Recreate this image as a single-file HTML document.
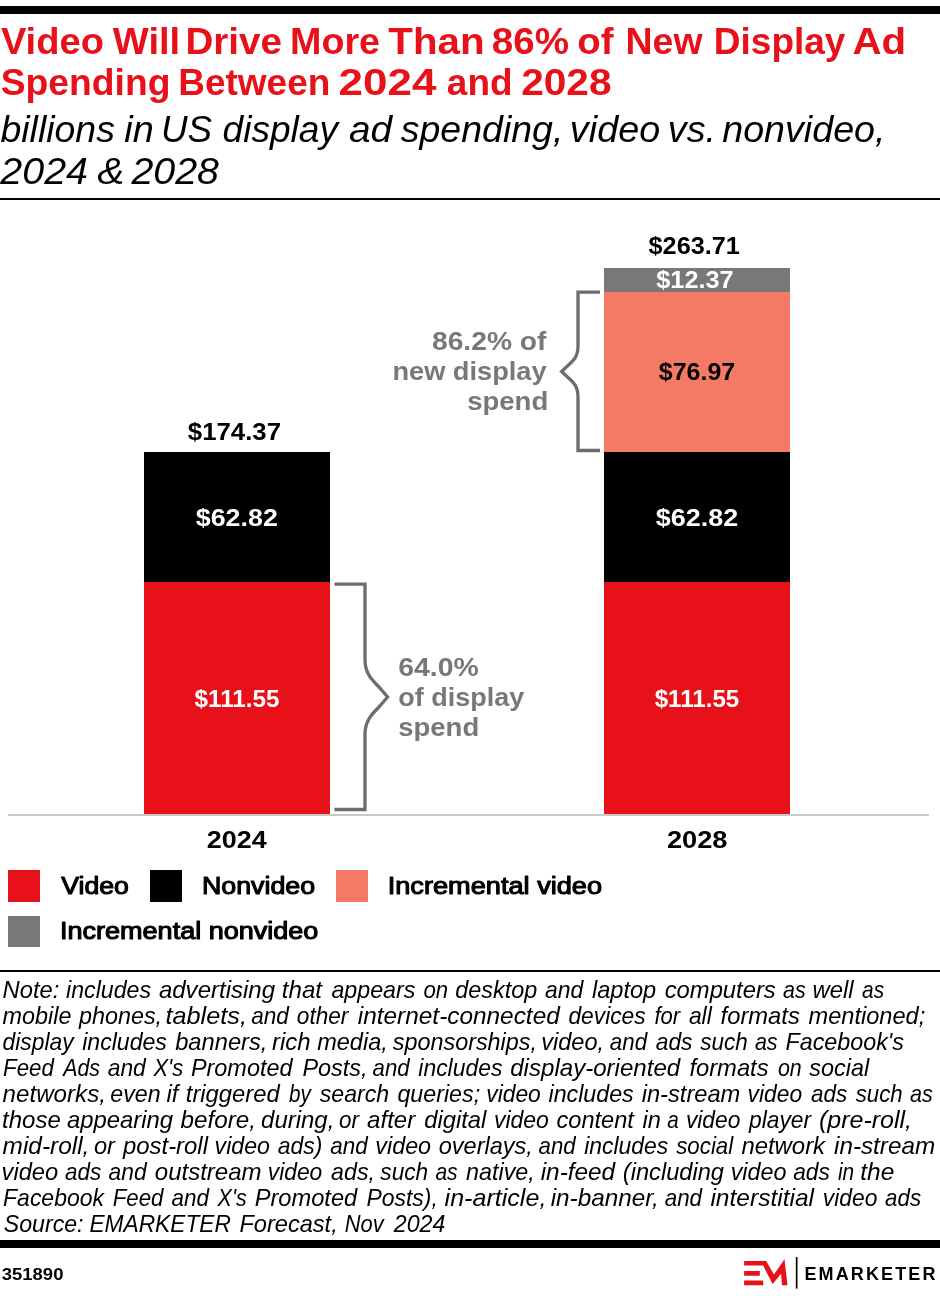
<!DOCTYPE html>
<html lang="en"><head><meta charset="utf-8"><title>Video Will Drive More Than 86% of New Display Ad Spending</title>
<style>
html,body{margin:0;padding:0;background:#fff}
svg{display:block;will-change:transform;font-family:"Liberation Sans",Arial,Helvetica,sans-serif}
</style></head><body>
<svg width="940" height="1296" viewBox="0 0 940 1296">
<rect width="940" height="1296" fill="#fff"/>
<rect x="0" y="6" width="940" height="8" fill="#000"/>
<rect x="0" y="198" width="940" height="2" fill="#000"/>
<rect x="0" y="970" width="940" height="2" fill="#000"/>
<rect x="0" y="1240" width="940" height="8" fill="#000"/>
<text y="53.5" font-size="36.6" font-weight="bold" font-style="normal" fill="#E8111A"><tspan x="0.91" textLength="103.0" lengthAdjust="spacingAndGlyphs">Video</tspan> <tspan x="112.8" textLength="67.35" lengthAdjust="spacingAndGlyphs">Will</tspan> <tspan x="185.47" textLength="96.47" lengthAdjust="spacingAndGlyphs">Drive</tspan> <tspan x="290.05" textLength="90.05" lengthAdjust="spacingAndGlyphs">More</tspan> <tspan x="388.29" textLength="96.26" lengthAdjust="spacingAndGlyphs">Than</tspan> <tspan x="491.79" textLength="77.24" lengthAdjust="spacingAndGlyphs">86%</tspan> <tspan x="577.35" textLength="36.3" lengthAdjust="spacingAndGlyphs">of</tspan> <tspan x="625.55" textLength="76.98" lengthAdjust="spacingAndGlyphs">New</tspan> <tspan x="713.79" textLength="131.67" lengthAdjust="spacingAndGlyphs">Display</tspan> <tspan x="852.44" textLength="53.65" lengthAdjust="spacingAndGlyphs">Ad</tspan></text>
<text y="95" font-size="36.6" font-weight="bold" font-style="normal" fill="#E8111A"><tspan x="0.79" textLength="169.65" lengthAdjust="spacingAndGlyphs">Spending</tspan> <tspan x="178.19" textLength="152.18" lengthAdjust="spacingAndGlyphs">Between</tspan> <tspan x="338.51" textLength="97.94" lengthAdjust="spacingAndGlyphs">2024</tspan> <tspan x="446.88" textLength="65.66" lengthAdjust="spacingAndGlyphs">and</tspan> <tspan x="521.16" textLength="90.38" lengthAdjust="spacingAndGlyphs">2028</tspan></text>
<text y="141.5" font-size="36.5" font-weight="normal" font-style="italic" fill="#000"><tspan x="0.48" textLength="114.43" lengthAdjust="spacingAndGlyphs">billions</tspan> <tspan x="124.3" textLength="29.47" lengthAdjust="spacingAndGlyphs">in</tspan> <tspan x="160.99" textLength="51.18" lengthAdjust="spacingAndGlyphs">US</tspan> <tspan x="222.58" textLength="115.34" lengthAdjust="spacingAndGlyphs">display</tspan> <tspan x="349.0" textLength="43.18" lengthAdjust="spacingAndGlyphs">ad</tspan> <tspan x="400.79" textLength="162.55" lengthAdjust="spacingAndGlyphs">spending,</tspan> <tspan x="569.87" textLength="90.29" lengthAdjust="spacingAndGlyphs">video</tspan> <tspan x="667.85" textLength="48.11" lengthAdjust="spacingAndGlyphs">vs.</tspan> <tspan x="722.24" textLength="163.25" lengthAdjust="spacingAndGlyphs">nonvideo,</tspan></text>
<text y="183.8" font-size="36.5" font-weight="normal" font-style="italic" fill="#000"><tspan x="0.37" textLength="87.55" lengthAdjust="spacingAndGlyphs">2024</tspan> <tspan x="97.31" textLength="27.11" lengthAdjust="spacingAndGlyphs">&amp;</tspan> <tspan x="131.48" textLength="87.52" lengthAdjust="spacingAndGlyphs">2028</tspan></text>
<rect x="8" y="814" width="921" height="2" fill="#c9c9c9"/>
<rect x="144" y="452" width="186" height="130" fill="#000"/>
<rect x="144" y="582" width="186" height="232" fill="#E8111A"/>
<rect x="604" y="268" width="186" height="24" fill="#787878"/>
<rect x="604" y="292" width="186" height="160" fill="#F47A65"/>
<rect x="604" y="452" width="186" height="130" fill="#000"/>
<rect x="604" y="582" width="186" height="232" fill="#E8111A"/>
<text x="234.4" y="439.5" font-size="24.6" font-weight="bold" font-style="normal" fill="#000" text-anchor="middle" textLength="93.2" lengthAdjust="spacingAndGlyphs">$174.37</text>
<text x="236.8" y="525.5" font-size="24.6" font-weight="bold" font-style="normal" fill="#fff" text-anchor="middle" textLength="82" lengthAdjust="spacingAndGlyphs">$62.82</text>
<text x="237" y="706.5" font-size="24.6" font-weight="bold" font-style="normal" fill="#fff" text-anchor="middle" textLength="85" lengthAdjust="spacingAndGlyphs">$111.55</text>
<text x="236.8" y="847.8" font-size="24.6" font-weight="bold" font-style="normal" fill="#000" text-anchor="middle" textLength="60" lengthAdjust="spacingAndGlyphs">2024</text>
<text x="694.2" y="253.7" font-size="24.6" font-weight="bold" font-style="normal" fill="#000" text-anchor="middle" textLength="91.3" lengthAdjust="spacingAndGlyphs">$263.71</text>
<text x="695" y="287.8" font-size="24.6" font-weight="bold" font-style="normal" fill="#fff" text-anchor="middle" textLength="77.4" lengthAdjust="spacingAndGlyphs">$12.37</text>
<text x="697" y="380.4" font-size="24.6" font-weight="bold" font-style="normal" fill="#000" text-anchor="middle" textLength="76.3" lengthAdjust="spacingAndGlyphs">$76.97</text>
<text x="697" y="526" font-size="24.6" font-weight="bold" font-style="normal" fill="#fff" text-anchor="middle" textLength="82.4" lengthAdjust="spacingAndGlyphs">$62.82</text>
<text x="697" y="707" font-size="24.6" font-weight="bold" font-style="normal" fill="#fff" text-anchor="middle" textLength="84.6" lengthAdjust="spacingAndGlyphs">$111.55</text>
<text x="697.2" y="847.9" font-size="24.6" font-weight="bold" font-style="normal" fill="#000" text-anchor="middle" textLength="60.6" lengthAdjust="spacingAndGlyphs">2028</text>
<path d="M334.5,584.2 H365 V660 C365,673 372,680 378,686 L387.6,697 L378,708 C372,714 365,721 365,734 V809.5 H334.5" fill="none" stroke="#6c6c6c" stroke-width="3.3" stroke-linejoin="miter"/>
<path d="M600,292.1 H578 V346 C578,357 573,361 568,365.5 L561.6,371.5 L568,377.5 C573,382 578,386 578,397 V450.5 H600" fill="none" stroke="#6c6c6c" stroke-width="3.3" stroke-linejoin="miter"/>
<text x="398.2" y="675.8" font-size="25" font-weight="bold" font-style="normal" fill="#787878" text-anchor="start" textLength="80.6" lengthAdjust="spacingAndGlyphs">64.0%</text>
<text x="398.2" y="705.9" font-size="25" font-weight="bold" font-style="normal" fill="#787878" text-anchor="start" textLength="126" lengthAdjust="spacingAndGlyphs">of display</text>
<text x="398.2" y="735.8" font-size="25" font-weight="bold" font-style="normal" fill="#787878" text-anchor="start" textLength="81" lengthAdjust="spacingAndGlyphs">spend</text>
<text x="546.4" y="349.8" font-size="25" font-weight="bold" font-style="normal" fill="#787878" text-anchor="end" textLength="114.4" lengthAdjust="spacingAndGlyphs">86.2% of</text>
<text x="546.6" y="379.6" font-size="25" font-weight="bold" font-style="normal" fill="#787878" text-anchor="end" textLength="154.2" lengthAdjust="spacingAndGlyphs">new display</text>
<text x="548.2" y="409.8" font-size="25" font-weight="bold" font-style="normal" fill="#787878" text-anchor="end" textLength="81" lengthAdjust="spacingAndGlyphs">spend</text>
<rect x="8" y="870" width="32" height="32" fill="#E8111A"/>
<rect x="150" y="870" width="32" height="32" fill="#000"/>
<rect x="336" y="870" width="32" height="32" fill="#F47A65"/>
<rect x="8" y="916" width="32" height="31" fill="#787878"/>
<text x="61.3" y="893.5" font-size="24.2" font-weight="normal" font-style="normal" fill="#000" text-anchor="start" textLength="67.6" lengthAdjust="spacingAndGlyphs" stroke="#000" stroke-width="1.1" stroke-linejoin="round">Video</text>
<text x="201.9" y="893.5" font-size="24.2" font-weight="normal" font-style="normal" fill="#000" text-anchor="start" textLength="113.2" lengthAdjust="spacingAndGlyphs" stroke="#000" stroke-width="1.1" stroke-linejoin="round">Nonvideo</text>
<text x="387.7" y="893.5" font-size="24.2" font-weight="normal" font-style="normal" fill="#000" text-anchor="start" textLength="214.4" lengthAdjust="spacingAndGlyphs" stroke="#000" stroke-width="1.1" stroke-linejoin="round">Incremental video</text>
<text x="60" y="939.2" font-size="24.2" font-weight="normal" font-style="normal" fill="#000" text-anchor="start" textLength="258.4" lengthAdjust="spacingAndGlyphs" stroke="#000" stroke-width="1.1" stroke-linejoin="round">Incremental nonvideo</text>
<text y="998" font-size="23.4" font-weight="normal" font-style="italic" fill="#000"><tspan x="2.6" textLength="56.71" lengthAdjust="spacingAndGlyphs">Note:</tspan> <tspan x="66.1" textLength="84.9" lengthAdjust="spacingAndGlyphs">includes</tspan> <tspan x="158.9" textLength="116.21" lengthAdjust="spacingAndGlyphs">advertising</tspan> <tspan x="281.77" textLength="40.28" lengthAdjust="spacingAndGlyphs">that</tspan> <tspan x="331.4" textLength="84.0" lengthAdjust="spacingAndGlyphs">appears</tspan> <tspan x="423.4" textLength="24.66" lengthAdjust="spacingAndGlyphs">on</tspan> <tspan x="455.3" textLength="81.91" lengthAdjust="spacingAndGlyphs">desktop</tspan> <tspan x="545.0" textLength="38.23" lengthAdjust="spacingAndGlyphs">and</tspan> <tspan x="591.9" textLength="64.31" lengthAdjust="spacingAndGlyphs">laptop</tspan> <tspan x="664.7" textLength="111.09" lengthAdjust="spacingAndGlyphs">computers</tspan> <tspan x="783.0" textLength="22.72" lengthAdjust="spacingAndGlyphs">as</tspan> <tspan x="812.58" textLength="41.1" lengthAdjust="spacingAndGlyphs">well</tspan> <tspan x="862.1" textLength="22.03" lengthAdjust="spacingAndGlyphs">as</tspan></text>
<text y="1024" font-size="23.4" font-weight="normal" font-style="italic" fill="#000"><tspan x="2.6" textLength="68.91" lengthAdjust="spacingAndGlyphs">mobile</tspan> <tspan x="78.9" textLength="83.2" lengthAdjust="spacingAndGlyphs">phones,</tspan> <tspan x="165.52" textLength="81.38" lengthAdjust="spacingAndGlyphs">tablets,</tspan> <tspan x="251.2" textLength="37.74" lengthAdjust="spacingAndGlyphs">and</tspan> <tspan x="296.8" textLength="51.63" lengthAdjust="spacingAndGlyphs">other</tspan> <tspan x="357.8" textLength="201.97" lengthAdjust="spacingAndGlyphs">internet-connected</tspan> <tspan x="568.4" textLength="77.3" lengthAdjust="spacingAndGlyphs">devices</tspan> <tspan x="654.5" textLength="25.66" lengthAdjust="spacingAndGlyphs">for</tspan> <tspan x="688.9" textLength="22.91" lengthAdjust="spacingAndGlyphs">all</tspan> <tspan x="720.6" textLength="79.19" lengthAdjust="spacingAndGlyphs">formats</tspan> <tspan x="808.5" textLength="116.7" lengthAdjust="spacingAndGlyphs">mentioned;</tspan></text>
<text y="1050" font-size="23.4" font-weight="normal" font-style="italic" fill="#000"><tspan x="2.6" textLength="70.93" lengthAdjust="spacingAndGlyphs">display</tspan> <tspan x="82.2" textLength="84.7" lengthAdjust="spacingAndGlyphs">includes</tspan> <tspan x="175.2" textLength="92.23" lengthAdjust="spacingAndGlyphs">banners,</tspan> <tspan x="272.0" textLength="38.63" lengthAdjust="spacingAndGlyphs">rich</tspan> <tspan x="317.2" textLength="70.61" lengthAdjust="spacingAndGlyphs">media,</tspan> <tspan x="392.8" textLength="144.2" lengthAdjust="spacingAndGlyphs">sponsorships,</tspan> <tspan x="541.29" textLength="62.82" lengthAdjust="spacingAndGlyphs">video,</tspan> <tspan x="609.8" textLength="37.35" lengthAdjust="spacingAndGlyphs">and</tspan> <tspan x="655.7" textLength="36.8" lengthAdjust="spacingAndGlyphs">ads</tspan> <tspan x="700.2" textLength="47.47" lengthAdjust="spacingAndGlyphs">such</tspan> <tspan x="754.9" textLength="22.72" lengthAdjust="spacingAndGlyphs">as</tspan> <tspan x="785.5" textLength="118.4" lengthAdjust="spacingAndGlyphs">Facebook's</tspan></text>
<text y="1076" font-size="23.4" font-weight="normal" font-style="italic" fill="#000"><tspan x="3.1" textLength="50.85" lengthAdjust="spacingAndGlyphs">Feed</tspan> <tspan x="63.13" textLength="36.89" lengthAdjust="spacingAndGlyphs">Ads</tspan> <tspan x="107.7" textLength="38.13" lengthAdjust="spacingAndGlyphs">and</tspan> <tspan x="153.44" textLength="29.78" lengthAdjust="spacingAndGlyphs">X's</tspan> <tspan x="190.9" textLength="101.61" lengthAdjust="spacingAndGlyphs">Promoted</tspan> <tspan x="302.4" textLength="65.1" lengthAdjust="spacingAndGlyphs">Posts,</tspan> <tspan x="372.6" textLength="37.06" lengthAdjust="spacingAndGlyphs">and</tspan> <tspan x="418.3" textLength="84.1" lengthAdjust="spacingAndGlyphs">includes</tspan> <tspan x="510.2" textLength="170.08" lengthAdjust="spacingAndGlyphs">display-oriented</tspan> <tspan x="689.4" textLength="79.19" lengthAdjust="spacingAndGlyphs">formats</tspan> <tspan x="777.9" textLength="23.82" lengthAdjust="spacingAndGlyphs">on</tspan> <tspan x="809.3" textLength="59.9" lengthAdjust="spacingAndGlyphs">social</tspan></text>
<text y="1102" font-size="23.4" font-weight="normal" font-style="italic" fill="#000"><tspan x="2.6" textLength="103.38" lengthAdjust="spacingAndGlyphs">networks,</tspan> <tspan x="110.3" textLength="50.3" lengthAdjust="spacingAndGlyphs">even</tspan> <tspan x="166.6" textLength="11.86" lengthAdjust="spacingAndGlyphs">if</tspan> <tspan x="185.78" textLength="93.91" lengthAdjust="spacingAndGlyphs">triggered</tspan> <tspan x="289.1" textLength="21.85" lengthAdjust="spacingAndGlyphs">by</tspan> <tspan x="319.8" textLength="69.4" lengthAdjust="spacingAndGlyphs">search</tspan> <tspan x="397.4" textLength="82.7" lengthAdjust="spacingAndGlyphs">queries;</tspan> <tspan x="486.22" textLength="54.58" lengthAdjust="spacingAndGlyphs">video</tspan> <tspan x="548.5" textLength="85.2" lengthAdjust="spacingAndGlyphs">includes</tspan> <tspan x="641.7" textLength="98.59" lengthAdjust="spacingAndGlyphs">in-stream</tspan> <tspan x="747.52" textLength="54.58" lengthAdjust="spacingAndGlyphs">video</tspan> <tspan x="811.1" textLength="36.21" lengthAdjust="spacingAndGlyphs">ads</tspan> <tspan x="855.7" textLength="46.96" lengthAdjust="spacingAndGlyphs">such</tspan> <tspan x="909.9" textLength="22.82" lengthAdjust="spacingAndGlyphs">as</tspan></text>
<text y="1128" font-size="23.4" font-weight="normal" font-style="italic" fill="#000"><tspan x="2.07" textLength="58.74" lengthAdjust="spacingAndGlyphs">those</tspan> <tspan x="66.9" textLength="106.21" lengthAdjust="spacingAndGlyphs">appearing</tspan> <tspan x="180.6" textLength="75.39" lengthAdjust="spacingAndGlyphs">before,</tspan> <tspan x="261.1" textLength="73.26" lengthAdjust="spacingAndGlyphs">during,</tspan> <tspan x="339.0" textLength="19.94" lengthAdjust="spacingAndGlyphs">or</tspan> <tspan x="367.1" textLength="48.15" lengthAdjust="spacingAndGlyphs">after</tspan> <tspan x="424.2" textLength="62.18" lengthAdjust="spacingAndGlyphs">digital</tspan> <tspan x="493.92" textLength="54.99" lengthAdjust="spacingAndGlyphs">video</tspan> <tspan x="556.5" textLength="77.39" lengthAdjust="spacingAndGlyphs">content</tspan> <tspan x="642.4" textLength="18.42" lengthAdjust="spacingAndGlyphs">in</tspan> <tspan x="667.2" textLength="11.51" lengthAdjust="spacingAndGlyphs">a</tspan> <tspan x="685.93" textLength="54.38" lengthAdjust="spacingAndGlyphs">video</tspan> <tspan x="748.98" textLength="62.14" lengthAdjust="spacingAndGlyphs">player</tspan> <tspan x="818.93" textLength="93.14" lengthAdjust="spacingAndGlyphs">(pre-roll,</tspan></text>
<text y="1154" font-size="23.4" font-weight="normal" font-style="italic" fill="#000"><tspan x="2.6" textLength="86.81" lengthAdjust="spacingAndGlyphs">mid-roll,</tspan> <tspan x="93.9" textLength="21.07" lengthAdjust="spacingAndGlyphs">or</tspan> <tspan x="123.02" textLength="84.96" lengthAdjust="spacingAndGlyphs">post-roll</tspan> <tspan x="214.61" textLength="55.4" lengthAdjust="spacingAndGlyphs">video</tspan> <tspan x="277.7" textLength="44.67" lengthAdjust="spacingAndGlyphs">ads)</tspan> <tspan x="330.3" textLength="37.35" lengthAdjust="spacingAndGlyphs">and</tspan> <tspan x="375.3" textLength="55.81" lengthAdjust="spacingAndGlyphs">video</tspan> <tspan x="438.7" textLength="94.22" lengthAdjust="spacingAndGlyphs">overlays,</tspan> <tspan x="538.6" textLength="37.06" lengthAdjust="spacingAndGlyphs">and</tspan> <tspan x="584.2" textLength="84.0" lengthAdjust="spacingAndGlyphs">includes</tspan> <tspan x="676.2" textLength="57.03" lengthAdjust="spacingAndGlyphs">social</tspan> <tspan x="741.4" textLength="83.67" lengthAdjust="spacingAndGlyphs">network</tspan> <tspan x="834.0" textLength="101.1" lengthAdjust="spacingAndGlyphs">in-stream</tspan></text>
<text y="1180" font-size="23.4" font-weight="normal" font-style="italic" fill="#000"><tspan x="1.59" textLength="56.62" lengthAdjust="spacingAndGlyphs">video</tspan> <tspan x="65.1" textLength="36.21" lengthAdjust="spacingAndGlyphs">ads</tspan> <tspan x="108.5" textLength="38.13" lengthAdjust="spacingAndGlyphs">and</tspan> <tspan x="154.8" textLength="106.8" lengthAdjust="spacingAndGlyphs">outstream</tspan> <tspan x="267.72" textLength="54.58" lengthAdjust="spacingAndGlyphs">video</tspan> <tspan x="331.1" textLength="43.99" lengthAdjust="spacingAndGlyphs">ads,</tspan> <tspan x="380.3" textLength="47.88" lengthAdjust="spacingAndGlyphs">such</tspan> <tspan x="435.4" textLength="22.23" lengthAdjust="spacingAndGlyphs">as</tspan> <tspan x="466.0" textLength="68.79" lengthAdjust="spacingAndGlyphs">native,</tspan> <tspan x="540.7" textLength="74.47" lengthAdjust="spacingAndGlyphs">in-feed</tspan> <tspan x="622.79" textLength="101.22" lengthAdjust="spacingAndGlyphs">(including</tspan> <tspan x="730.7" textLength="55.7" lengthAdjust="spacingAndGlyphs">video</tspan> <tspan x="793.2" textLength="36.7" lengthAdjust="spacingAndGlyphs">ads</tspan> <tspan x="837.9" textLength="16.2" lengthAdjust="spacingAndGlyphs">in</tspan> <tspan x="860.25" textLength="34.06" lengthAdjust="spacingAndGlyphs">the</tspan></text>
<text y="1206" font-size="23.4" font-weight="normal" font-style="italic" fill="#000"><tspan x="3.1" textLength="100.82" lengthAdjust="spacingAndGlyphs">Facebook</tspan> <tspan x="112.8" textLength="50.66" lengthAdjust="spacingAndGlyphs">Feed</tspan> <tspan x="171.6" textLength="37.45" lengthAdjust="spacingAndGlyphs">and</tspan> <tspan x="217.62" textLength="29.1" lengthAdjust="spacingAndGlyphs">X's</tspan> <tspan x="254.7" textLength="102.5" lengthAdjust="spacingAndGlyphs">Promoted</tspan> <tspan x="366.5" textLength="71.35" lengthAdjust="spacingAndGlyphs">Posts),</tspan> <tspan x="444.6" textLength="101.78" lengthAdjust="spacingAndGlyphs">in-article,</tspan> <tspan x="550.7" textLength="108.1" lengthAdjust="spacingAndGlyphs">in-banner,</tspan> <tspan x="664.7" textLength="37.35" lengthAdjust="spacingAndGlyphs">and</tspan> <tspan x="710.4" textLength="103.66" lengthAdjust="spacingAndGlyphs">interstitial</tspan> <tspan x="822.82" textLength="54.58" lengthAdjust="spacingAndGlyphs">video</tspan> <tspan x="885.1" textLength="36.01" lengthAdjust="spacingAndGlyphs">ads</tspan></text>
<text y="1232" font-size="23.4" font-weight="normal" font-style="italic" fill="#000"><tspan x="3.8" textLength="79.69" lengthAdjust="spacingAndGlyphs">Source:</tspan> <tspan x="89.4" textLength="141.59" lengthAdjust="spacingAndGlyphs">EMARKETER</tspan> <tspan x="239.4" textLength="98.32" lengthAdjust="spacingAndGlyphs">Forecast,</tspan> <tspan x="344.7" textLength="38.88" lengthAdjust="spacingAndGlyphs">Nov</tspan> <tspan x="393.79" textLength="51.62" lengthAdjust="spacingAndGlyphs">2024</tspan></text>
<text x="1.8" y="1280" font-size="16.5" font-weight="bold" font-style="normal" fill="#000" text-anchor="start" textLength="61.6" lengthAdjust="spacingAndGlyphs">351890</text>
<path d="M744.1,1260.9 H766.2 L773.9,1274.6 L784.5,1259.2 L787.5,1285.2 H782 L781.1,1273.7 L772.6,1283.9 L763.1,1265.6 H744.1 Z M744.1,1271.1 H759.8 V1275.7 H744.1 Z M744.1,1280.5 H763.2 V1285.2 H744.1 Z" fill="#E8111A"/>
<rect x="795.8" y="1257" width="1.7" height="31.6" fill="#000"/>
<text x="804.4" y="1280" font-size="18" font-weight="bold" textLength="131" lengthAdjust="spacing">EMARKETER</text>
</svg></body></html>
